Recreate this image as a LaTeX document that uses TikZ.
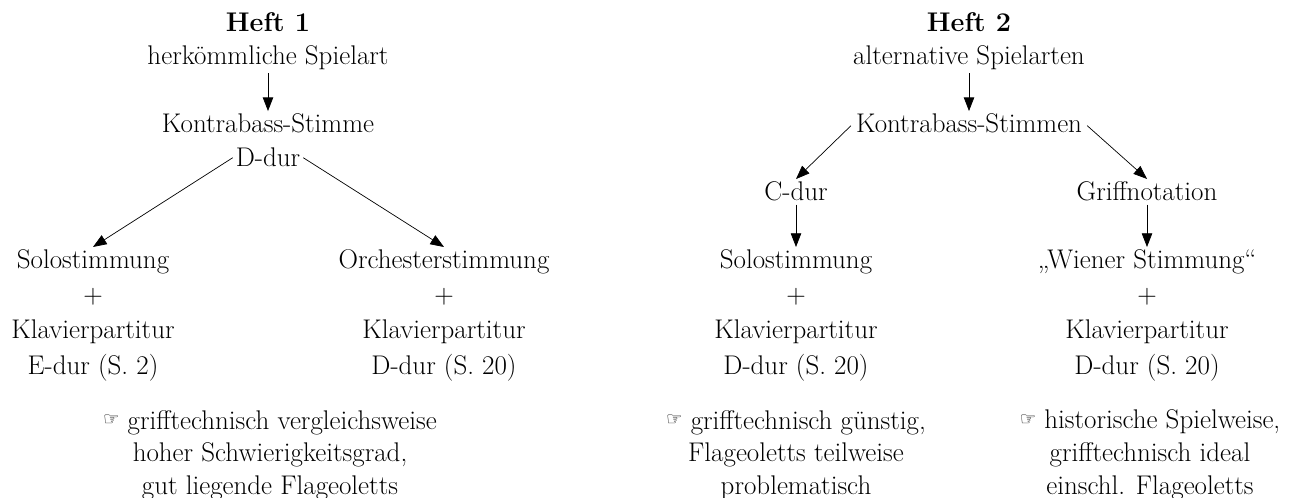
\documentclass[tikz,border=0pt]{standalone}
\usepackage{fontspec}
\newfontfamily\handfont{DejaVu Sans}
\usetikzlibrary{arrows.meta}

\newcommand{\hand}{{\handfont\fontsize{13}{13}\selectfont\raisebox{0.35ex}{☞}}\ }

\tikzset{
	txt/.style={inner sep=2pt, align=center, font=\fontsize{19.2}{24.9}\selectfont},
	note/.style={txt, font=\fontsize{19.2}{23.2}\selectfont},
	arr/.style={-{Triangle[length=3.4mm,width=2.6mm]}, line width=0.5pt},
}

\begin{document}
\begin{tikzpicture}[x=0.025cm, y=-0.025cm]
	
	\useasboundingbox (0,0) rectangle (1294,498);
	
	% Heft 1
	\node[txt, anchor=base] (heftA) at (268,32) {\textbf{Heft 1}};
	\node[txt, anchor=base] (artA) at (268,65) {herkömmliche Spielart};
	\node[txt, anchor=base] (kbA) at (268,133) {Kontrabass-Stimme};
	\node[txt, anchor=base] (durA) at (268,167) {D-dur};
	\node[txt, anchor=north] (soloA) at (93,247) {Solostimmung\\+\\Klavierpartitur\\E-dur (S.~2)};
	\node[txt, anchor=north] (orchA) at (444,247) {Orchesterstimmung\\+\\Klavierpartitur\\D-dur (S.~20)};
	\node[note, anchor=north] (noteA) at (270,407) {\hand grifftechnisch vergleichsweise\\hoher Schwierigkeitsgrad,\\gut liegende Flageoletts};
	
	\draw[arr] (artA) -- (kbA);
	\draw[arr] (durA.west) -- (soloA.north);
	\draw[arr] (durA.east) -- (orchA.north);
	
	% Heft 2
	\node[txt, anchor=base] (heftB) at (969,32) {\textbf{Heft 2}};
	\node[txt, anchor=base] (artB) at (969,65) {alternative Spielarten};
	\node[txt, anchor=base] (kbB) at (969,133) {Kontrabass-Stimmen};
	\node[txt, anchor=base] (cdurB) at (796,201) {C-dur};
	\node[txt, anchor=base] (griffB) at (1147,201) {Griffnotation};
	\node[txt, anchor=north] (soloB) at (796,247) {Solostimmung\\+\\Klavierpartitur\\D-dur (S.~20)};
	\node[txt, anchor=north] (wienB) at (1147,247) {„Wiener Stimmung“\\+\\Klavierpartitur\\D-dur (S.~20)};
	\node[note, anchor=north] (noteB) at (796,407) {\hand grifftechnisch günstig,\\Flageoletts teilweise\\problematisch};
	\node[note, anchor=north] (noteC) at (1150,407) {\hand historische Spielweise,\\grifftechnisch ideal\\einschl. Flageoletts};
	
	\draw[arr] (artB) -- (kbB);
	\draw[arr, shorten <=2pt] (kbB.west) -- (cdurB.north);
	\draw[arr, shorten <=2pt] (kbB.east) -- (griffB.north);
	\draw[arr] (cdurB) -- (soloB);
	\draw[arr] (griffB) -- (wienB);
	
\end{tikzpicture}
\end{document}
